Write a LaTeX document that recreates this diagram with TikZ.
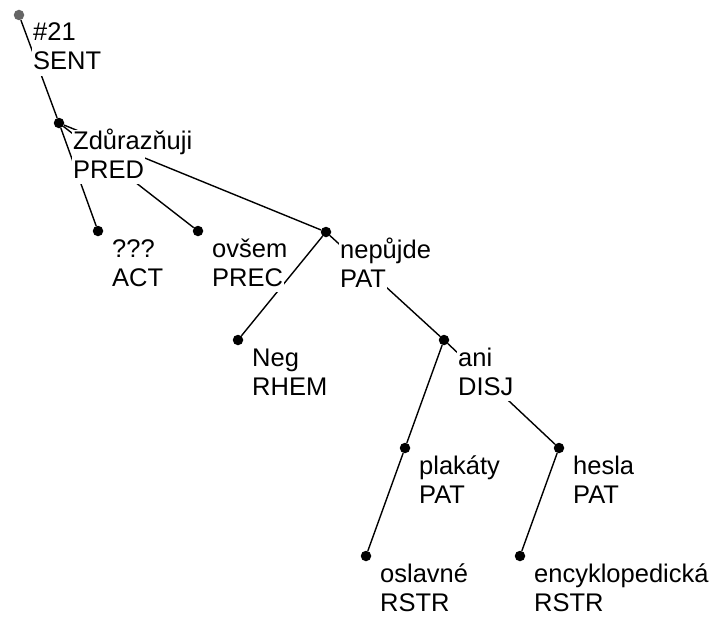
\documentclass[tikz,border=0pt]{standalone}
\usepackage{fontspec}
\setmainfont{Liberation Sans}
\begin{document}
\begin{tikzpicture}[x=1pt,y=-1pt,
  dot/.style={circle,fill=black,inner sep=0pt,minimum size=10.5pt},
  rootdot/.style={dot,fill=black!60},
  edge/.style={line width=1.4pt,black},
  lbl/.style={anchor=base west,fill=white,inner xsep=1pt,inner ysep=0pt,
    text height=19pt,text depth=6pt,font=\fontsize{25.5}{29}\selectfont},
  lbltwo/.style={lbl,text height=23pt}]
\useasboundingbox (0,0) rectangle (714,618);

% tree nodes
\node[rootdot] (sent) at (19,15) {};
\node[dot] (pred) at (59,123) {};
\node[dot] (act)  at (98,231) {};
\node[dot] (prec) at (198,231) {};
\node[dot] (pat)  at (326,232) {};
\node[dot] (rhem) at (238,340) {};
\node[dot] (disj) at (444,340) {};
\node[dot] (plak) at (405,448) {};
\node[dot] (hesl) at (559,448) {};
\node[dot] (osl)  at (366,556) {};
\node[dot] (enc)  at (520,556) {};

% edges (labels are drawn afterwards, covering them where they cross)
\draw[edge] (sent) -- (pred);
\draw[edge] (pred) -- (act);
\draw[edge] (pred) -- (prec);
\draw[edge] (pred) -- (pat);
\draw[edge] (pat) -- (rhem);
\draw[edge] (pat) -- (disj);
\draw[edge] (disj) -- (plak);
\draw[edge] (disj) -- (hesl);
\draw[edge] (plak) -- (osl);
\draw[edge] (hesl) -- (enc);

% two-line labels: word form above, functor below
\newcommand\treelabel[3]{%
  \node[lbl] (#1-a) at ([shift={(13,26)}]#1.center) {#2};
  \node[lbltwo] (#1-b) at ([shift={(13,55)}]#1.center) {#3};}
\treelabel{sent}{\#21}{SENT}
\treelabel{pred}{Zdůrazňuji}{PRED}
\treelabel{act}{???}{ACT}
\treelabel{prec}{ovšem}{PREC}
\treelabel{pat}{nepůjde}{PAT}
\treelabel{rhem}{Neg}{RHEM}
\treelabel{disj}{ani}{DISJ}
\treelabel{plak}{plakáty}{PAT}
\treelabel{hesl}{hesla}{PAT}
\treelabel{osl}{oslavné}{RSTR}
\treelabel{enc}{encyklopedická}{RSTR}
\end{tikzpicture}
\end{document}
